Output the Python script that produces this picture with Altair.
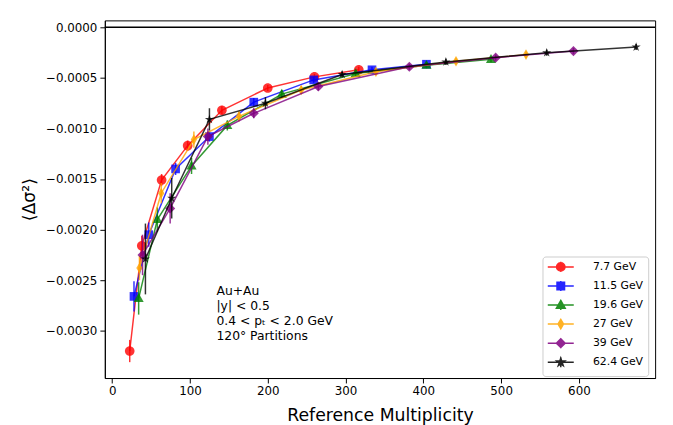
import altair as alt
import pandas as pd

series = ["7.7 GeV", "11.5 GeV", "19.6 GeV", "27 GeV", "39 GeV", "62.4 GeV"]
colors = ["#ff0000", "#0000ff", "#008000", "#ffa500", "#800080", "#000000"]

x_77 = [22.5, 38, 63.5, 97, 141, 200, 260, 317]
y_77 = [-0.00320, -0.00216, -0.00151, -0.00117, -0.00082, -0.00060, -0.00049, -0.00042]
e_77 = [0.00011, 0.00010, 0.00006, 0.00005, 0.00004, 0.00003, 0.00003, 0.00003]

x_115 = [28, 47, 81.5, 125, 182, 259, 334, 404]
y_115 = [-0.00266, -0.00205, -0.00140, -0.00108, -0.00074, -0.00052, -0.00042, -0.000365]
e_115 = [0.00015, 0.00012, 0.00006, 0.00005, 0.00004, 0.00003, 0.00003, 0.00003]

x_196 = [34, 58, 102, 148, 218, 313, 404, 487]
y_196 = [-0.00268, -0.00190, -0.00137, -0.00097, -0.00066, -0.000456, -0.000375, -0.000316]
e_196 = [0.00016, 0.00012, 0.00008, 0.00005, 0.00004, 0.00003, 0.00003, 0.00003]

x_27 = [35, 63, 105, 163, 243, 339, 442, 532]
y_27 = [-0.00238, -0.00164, -0.00111, -0.00088, -0.00062, -0.00044, -0.000335, -0.00027]
e_27 = [0.00012, 0.00010, 0.00008, 0.00005, 0.00004, 0.00003, 0.00003, 0.00003]

x_39 = [39, 74.5, 123, 182, 265, 382, 493, 593]
y_39 = [-0.00225, -0.00179, -0.00108, -0.00085, -0.000585, -0.00039, -0.00030, -0.000235]
e_39 = [0.00020, 0.00015, 0.00008, 0.00005, 0.00004, 0.00003, 0.00003, 0.00003]

x_624 = [42.7, 76.5, 125, 197, 295.6, 429, 558.6, 673.6]
y_624 = [-0.00229, -0.00169, -0.00091, -0.00075, -0.000466, -0.000342, -0.000251, -0.000195]
e_624 = [0.00035, 0.00020, 0.00011, 0.00006, 0.00003, 0.00003, 0.00003, 0.00003]

xs = [x_77, x_115, x_196, x_27, x_39, x_624]
ys = [y_77, y_115, y_196, y_27, y_39, y_624]
es = [e_77, e_115, e_196, e_27, e_39, e_624]

x_ticks = [0, 100, 200, 300, 400, 500, 600]
y_ticks = [0.0, -0.0005, -0.0010, -0.0015, -0.0020, -0.0025, -0.0030]

note = "Au+Au\n|y| < 0.5\n0.4 < pₜ < 2.0 GeV\n120° Partitions"

CIRCLE = "M1,0A1,1,0,1,1,-1,0A1,1,0,1,1,1,0Z"
SQUARE = "M-0.9,-0.9H0.9V0.9H-0.9Z"
TRI = "M0,-1.1L1.05,0.75L-1.05,0.75Z"
THIN_D = "M0,-1.1L0.65,0L0,1.1L-0.65,0Z"
DIAM = "M0,-1.05L1.05,0L0,1.05L-1.05,0Z"
STAR = ("M0,-1.0L0.225,-0.309L0.951,-0.309L0.363,0.118L0.588,0.809L0,0.382"
        "L-0.588,0.809L-0.363,0.118L-0.951,-0.309L-0.225,-0.309Z")
marker_paths = [CIRCLE, SQUARE, TRI, THIN_D, DIAM, STAR]
legend_paths = [p + "M-3.1,0H3.1M0,-1.2V1.2" for p in marker_paths]

rows = []
for s, xv, yv, ev in zip(series, xs, ys, es):
    for a, b, c in zip(xv, yv, ev):
        rows.append({"series": s, "x": a, "y": b, "lo": b - c, "hi": b + c})
df = pd.DataFrame(rows)

FONT = "DejaVu Sans"
xscale = alt.Scale(domain=[-9.5, 698], nice=False, zero=False)
yscale = alt.Scale(domain=[-0.003467, 0.0000684], nice=False, zero=False)
xaxis = alt.Axis(values=x_ticks, title="Reference Multiplicity", grid=False, format="d",
                 labelFontSize=12, titleFontSize=17.5, titleFontWeight="normal",
                 tickSize=5, labelPadding=3, titlePadding=10)
yaxis = alt.Axis(values=y_ticks, title="⟨Δσ²⟩", grid=False, format=".4f",
                 labelFontSize=12, titleFontSize=17.5, titleFontWeight="normal",
                 tickSize=5, labelPadding=3, titlePadding=7)


def X(f):
    return alt.X(f, type="quantitative", scale=xscale, axis=xaxis)


def Y(f):
    return alt.Y(f, type="quantitative", scale=yscale, axis=yaxis)


base = alt.Chart(df)
layers = []
for s, col, mp in zip(series, colors, marker_paths):
    sub = base.transform_filter(alt.datum.series == s)
    layers.append(sub.mark_line(color=col, strokeWidth=1.5, opacity=0.8).encode(x=X("x"), y=Y("y")))
    layers.append(sub.mark_rule(color=col, strokeWidth=1.5, opacity=0.8).encode(x=X("x"), y=Y("lo"), y2="hi"))
    layers.append(sub.mark_point(shape=mp, filled=True, color=col, size=95, opacity=0.8).encode(x=X("x"), y=Y("y")))

hline = alt.Chart(pd.DataFrame({"y0": [0.0]})).mark_rule(color="black", strokeWidth=1.5).encode(y=Y("y0"))

leg = alt.Legend(title=None, orient="none", legendX=443, legendY=239, labelFontSize=11,
                 labelFont=FONT, symbolSize=72, symbolStrokeWidth=1.5, symbolOpacity=0.85,
                 padding=5, rowPadding=2.3, symbolOffset=8, labelOffset=27,
                 strokeColor="#cccccc", fillColor="white", cornerRadius=3)
legend_layer = base.mark_point(filled=True, size=0).encode(
    x=X("x"), y=Y("y"),
    color=alt.Color("series:N", scale=alt.Scale(domain=series, range=colors), legend=leg),
    stroke=alt.Stroke("series:N", scale=alt.Scale(domain=series, range=colors), legend=leg),
    shape=alt.Shape("series:N", scale=alt.Scale(domain=series, range=legend_paths), legend=leg),
)

text = alt.Chart(pd.DataFrame({"t": [note]})).mark_text(
    align="left", baseline="top", fontSize=12.5, font=FONT, lineBreak="\n", lineHeight=15.3, color="black"
).encode(x=alt.value(113), y=alt.value(268), text="t:N")

chart = alt.layer(hline, *layers, legend_layer, text).properties(
    width=557, height=362,
    autosize=alt.AutoSizeParams(type="none"),
    padding={"left": 98, "top": 10, "right": 10, "bottom": 45},
).configure_view(stroke="black", strokeWidth=1).configure_axis(
    domainColor="black", tickColor="black", labelColor="black", titleColor="black",
    labelFont=FONT, titleFont=FONT, domainWidth=1, tickWidth=1
)

chart.save("out.html", embed_options={"renderer": "svg", "actions": False})
